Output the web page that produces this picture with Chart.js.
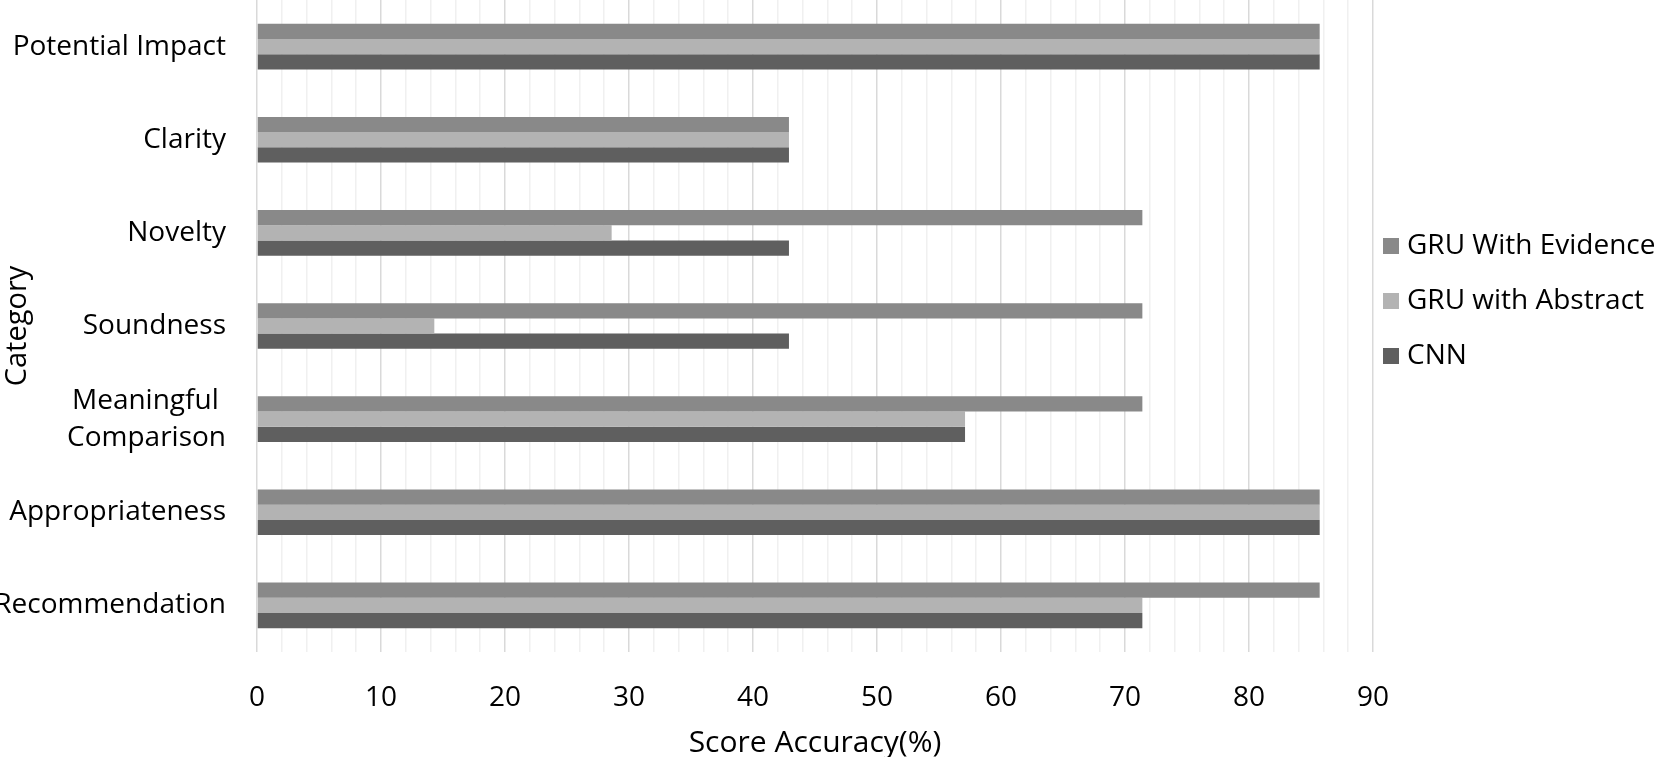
<!DOCTYPE html>
<html>
<head>
<meta charset="utf-8">
<script src="https://cdn.jsdelivr.net/npm/chart.js@4"></script>
<style>
  html, body { margin: 0; padding: 0; background: #fff; }
  #wrap { width: 1659px; height: 757px; position: relative; }
</style>
</head>
<body>
<div id="wrap"><canvas id="scoreChart"></canvas></div>
<script>
// categories, top to bottom
const categories = ['Potential Impact', 'Clarity', 'Novelty', 'Soundness', ['Meaningful ', 'Comparison'], 'Appropriateness', 'Recommendation'];

// score accuracy (%) for each model
const gruEvidence = [85.7, 42.9, 71.4, 71.4, 71.4, 85.7, 85.7];
const gruAbstract = [85.7, 42.9, 28.6, 14.3, 57.1, 85.7, 71.4];
const cnn = [85.7, 42.9, 42.9, 42.9, 57.1, 85.7, 71.4];

const seriesNames = ['GRU With Evidence', 'GRU with Abstract', 'CNN'];
const tickValues = [0, 10, 20, 30, 40, 50, 60, 70, 80, 90];

const FONT = "'Open Sans', sans-serif";

// legend drawn on the right, next to the plot
const sideLegend = {
    id: 'sideLegend',
    afterDraw(chart) {
        const ctx = chart.ctx;
        const x = chart.chartArea.right + 10;
        const y0 = 245;
        ctx.save();
        ctx.font = "28px " + FONT;
        ctx.textBaseline = 'middle';
        chart.data.datasets.forEach((ds, i) => {
            const y = y0 + i * 55;
            ctx.fillStyle = ds.backgroundColor;
            ctx.fillRect(x, y - 7, 16, 16);
            ctx.fillStyle = '#000';
            ctx.fillText(ds.label, x + 24, y + 1);
        });
        ctx.restore();
    }
};

const ctx = document.getElementById('scoreChart').getContext('2d');
new Chart(ctx, {
    type: 'bar',
    data: {
        labels: categories,
        datasets: [
            { label: seriesNames[0], data: gruEvidence, backgroundColor: '#898989' },
            { label: seriesNames[1], data: gruAbstract, backgroundColor: '#b3b3b3' },
            { label: seriesNames[2], data: cnn, backgroundColor: '#5f5f5f' }
        ]
    },
    options: {
        indexAxis: 'y',
        responsive: true,
        maintainAspectRatio: false,
        animation: false,
        layout: { padding: { top: 0, right: 286, left: 0, bottom: 0 } },
        datasets: {
            bar: {
                categoryPercentage: 0.49,
                barPercentage: 1.0,
                borderWidth: 0
            }
        },
        plugins: {
            legend: { display: false },
            tooltip: { enabled: false }
        },
        scales: {
            x: {
                min: 0,
                max: 90,
                afterFit(scale) { scale.height = 105; },
                ticks: {
                    stepSize: 2,
                    autoSkip: false,
                    maxRotation: 0,
                    padding: 29,
                    color: '#000',
                    font: { family: FONT, size: 28 },
                    callback: (v) => tickValues.includes(v) ? String(v) : ''
                },
                grid: {
                    drawTicks: false,
                    lineWidth: 1.5,
                    color: (c) => (c.tick && c.tick.value % 10 === 0) ? '#d9d9d9' : '#f0f0f0'
                },
                border: { display: false },
                title: {
                    display: true,
                    text: 'Score Accuracy(%)',
                    color: '#000',
                    font: { family: FONT, size: 30 },
                    padding: { top: 0, bottom: -4 }
                }
            },
            y: {
                afterFit(scale) {
                    scale.width = 257;
                    scale.paddingTop = 0;
                    scale.paddingBottom = 0;
                },
                ticks: {
                    padding: 31,
                    color: '#000',
                    font: { family: FONT, size: 28, lineHeight: 1.32 }
                },
                grid: { display: false, drawTicks: false },
                border: { display: false },
                title: {
                    display: true,
                    text: 'Category',
                    color: '#000',
                    font: { family: FONT, size: 29 },
                    padding: { top: 0, bottom: 0 }
                }
            }
        }
    },
    plugins: [sideLegend]
});
</script>
</body>
</html>
